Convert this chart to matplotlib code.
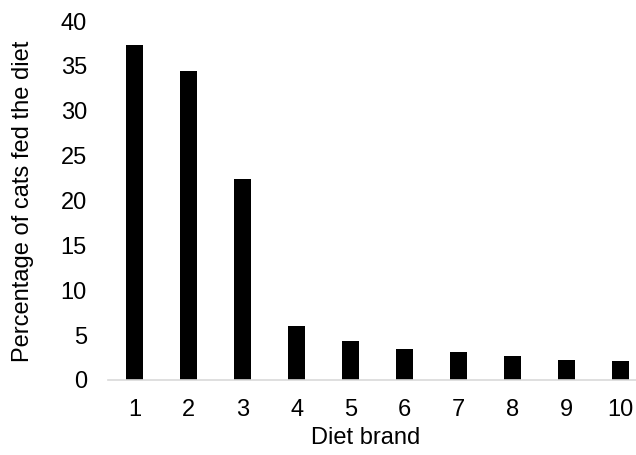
import matplotlib
matplotlib.use("Agg")
import matplotlib.pyplot as plt

brands = ["1", "2", "3", "4", "5", "6", "7", "8", "9", "10"]
percent = [37.3, 34.4, 22.4, 6.05, 4.3, 3.4, 3.1, 2.65, 2.25, 2.15]
yticks = [0, 5, 10, 15, 20, 25, 30, 35, 40]

plt.rcParams['font.family'] = ['Liberation Sans', 'DejaVu Sans']

W, H = 636, 455
fig = plt.figure(figsize=(W / 100, H / 100), dpi=100)
left, right, bottom, top = 107.7, 647.7, 380, 21
ax = fig.add_axes([left / W, (H - bottom) / H, (right - left) / W, (bottom - top) / H])

x = list(range(len(brands)))
ax.bar(x, percent, width=0.32, color="black")
ax.set_xlim(-0.5, len(brands) - 0.5)
ax.set_ylim(0, 40)
ax.set_yticks(yticks)
ax.set_xticks(x)
ax.set_xticklabels(brands)

for s in ["top", "right", "left"]:
    ax.spines[s].set_visible(False)
ax.spines["bottom"].set_color("#d9d9d9")
ax.spines["bottom"].set_linewidth(1.2)
ax.tick_params(axis="both", length=0, labelsize=17, colors="black")
ax.tick_params(axis="x", pad=13.5)
ax.tick_params(axis="y", pad=15)

fig.text(23 / W, 1 - 201 / H, "Percentage of cats fed the diet", rotation=90,
         ha="center", va="center", fontsize=17)
fig.text(366 / W, 1 - 438 / H, "Diet brand", ha="center", va="center", fontsize=17)

fig.savefig("out.png", dpi=100)
